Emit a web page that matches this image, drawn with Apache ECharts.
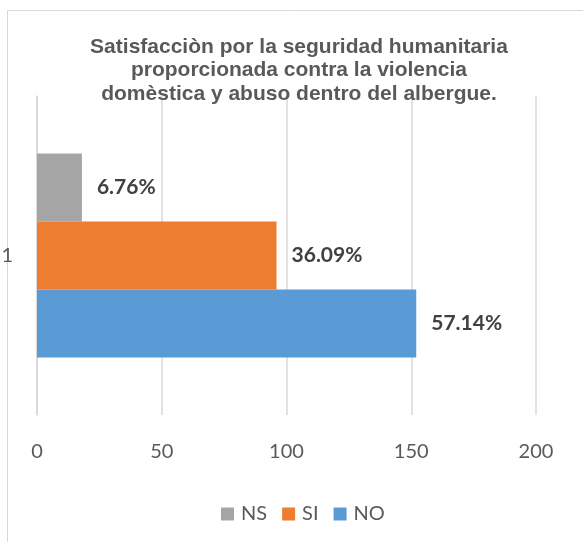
<!DOCTYPE html>
<html>
<head>
<meta charset="utf-8">
<script src="https://cdn.jsdelivr.net/npm/echarts@6/dist/echarts.min.js"></script>
<style>
  html, body { margin: 0; padding: 0; background: #fff; }
  #main { width: 583px; height: 542px; }
</style>
</head>
<body>
<div id="main"></div>
<script>
// data
var categories = ['1']
var seriesNames = ['NS', 'SI', 'NO']
var nsValues = [18]
var siValues = [96]
var noValues = [152]
var pctLabels = ['6.76%', '36.09%', '57.14%']
var xTicks = { min: 0, max: 200, interval: 50 }
var colors = ['#a5a5a5', '#ed7d31', '#5b9bd5']

var myChart = echarts.init(document.getElementById('main'))

var values = [nsValues, siValues, noValues]
var series = seriesNames.map(function (name, i) {
    return {
        name: name,
        type: 'bar',
        data: values[i],
        barGap: 0,
        barCategoryGap: '36%',
        itemStyle: { color: colors[i] },
        label: {
            show: true,
            position: 'right',
            distance: 15,
            formatter: function () { return pctLabels[i] },
            fontFamily: 'Lato',
            fontWeight: 'bold',
            fontSize: 21,
            color: '#404040'
        }
    }
})

var option = {
    animation: false,
    title: {
        text: 'Satisfacciòn por la seguridad humanitaria\nproporcionada contra la violencia\ndomèstica y abuso dentro del albergue.',
        left: 294,
        top: 30,
        textAlign: 'center',
        textStyle: {
            fontFamily: 'Liberation Sans',
            fontWeight: 'bold',
            fontSize: 21,
            lineHeight: 23.5,
            color: '#595959'
        }
    },
    graphic: [
        {
            type: 'rect',
            shape: { x: 7.5, y: 10.5, width: 620, height: 600 },
            style: { fill: 'none', stroke: '#d9d9d9', lineWidth: 1 },
            silent: true
        }
    ],
    legend: {
        data: seriesNames,
        left: 216,
        top: 499,
        icon: 'rect',
        itemWidth: 13,
        itemHeight: 13,
        itemGap: 15,
        textStyle: { fontFamily: 'Lato', fontSize: 20, color: '#595959', padding: [0, 0, 0, 2] }
    },
    grid: {
        left: 37,
        right: 47,
        top: 96,
        bottom: 127,
        outerBoundsMode: 'none'
    },
    xAxis: {
        type: 'value',
        min: xTicks.min,
        max: xTicks.max,
        interval: xTicks.interval,
        axisLine: { show: false },
        axisTick: { show: false },
        splitLine: { lineStyle: { color: '#d9d9d9', width: 1.5 } },
        axisLabel: { fontFamily: 'Lato', fontSize: 20, color: '#595959', margin: 27 }
    },
    yAxis: {
        type: 'category',
        data: categories,
        axisLine: { show: true, lineStyle: { color: '#d9d9d9', width: 1.5 } },
        axisTick: { show: false },
        axisLabel: { fontFamily: 'Lato', fontSize: 20, color: '#595959', margin: 24, padding: [0, 0, 22, 0] }
    },
    series: series
}

option && myChart.setOption(option, true)
</script>
</body>
</html>
